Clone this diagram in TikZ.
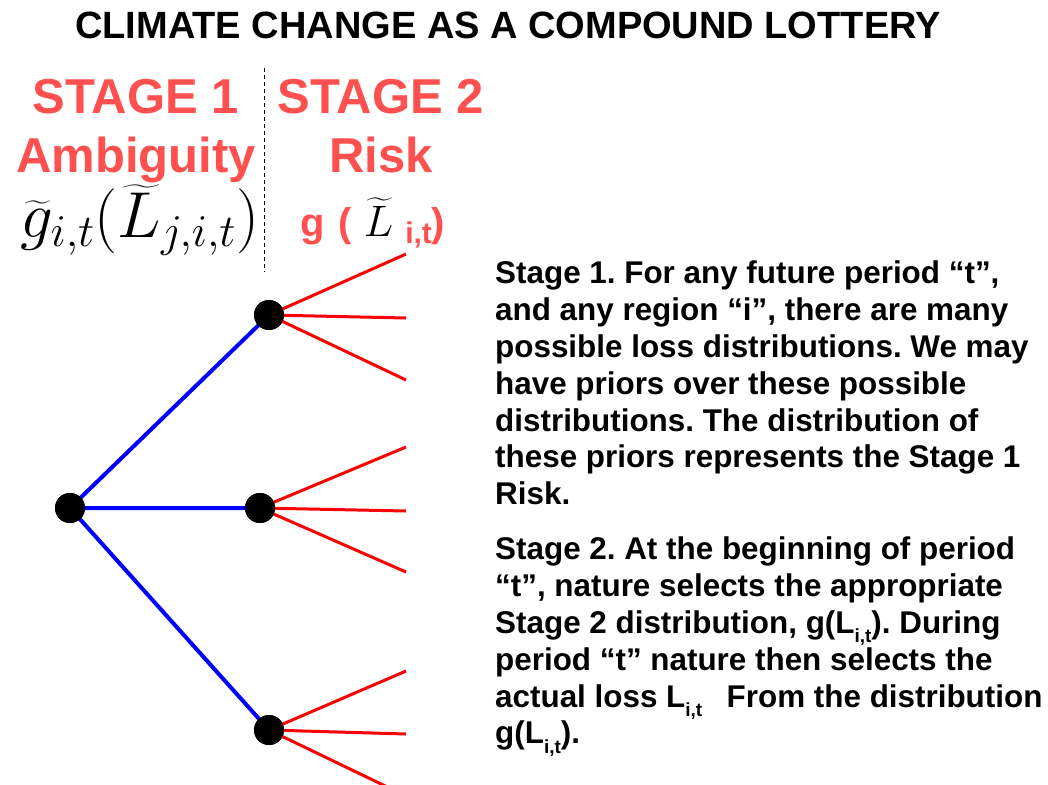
\documentclass[tikz,border=0pt]{standalone}
\usepackage{fix-cm}
\usepackage{amsmath}
\usepackage{fontspec}
\setmainfont{Liberation Sans}
\usetikzlibrary{calc}
\definecolor{stagered}{HTML}{FF5050}
\newcommand{\isub}{\raisebox{-0.3em}{\fontsize{19}{19}\selectfont i,t}}
\frenchspacing

\begin{document}
\begin{tikzpicture}[x=1pt,y=-1pt,
  dot/.style={circle,fill=black,inner sep=0pt,minimum size=30pt},
  blueedge/.style={blue,line width=4pt},
  rededge/.style={red,line width=3pt},
  stagehead/.style={text=stagered,font=\fontsize{49}{49}\selectfont\bfseries,inner sep=0pt,anchor=base},
  para/.style={align=left,inner sep=0pt,anchor=north west,font=\fontsize{31.4}{36.8}\selectfont\bfseries}]
 \useasboundingbox (0,0) rectangle (1048,784);
 % headings
 \node[inner sep=0pt,anchor=base,font=\fontsize{38}{38}\selectfont\bfseries] (title) at (508,38) {CLIMATE CHANGE AS A COMPOUND LOTTERY};
 \node[stagehead] (stageone) at (136,113) {STAGE 1};
 \node[stagehead] (stagetwo) at (381,113) {STAGE 2};
 \node[stagehead] (ambig) at (136,172) {Ambiguity};
 \node[stagehead] (risk) at (381,172) {Risk};
 \node[inner sep=0pt,anchor=base west,font=\fontsize{65}{65}\selectfont] (gfun) at (20,237)
   {$\widetilde{g}_{i,t}(\widetilde{L}_{j,i,t})$};
 \node[inner sep=0pt,anchor=base west,font=\fontsize{40}{40}\selectfont] (gdist) at (300,236)
   {{\color{stagered}\bfseries g\hspace{0.35em}(}\hspace{0.3em}{\fontsize{44}{44}\selectfont$\widetilde{L}$}\hspace{0.3em}\raisebox{-7pt}{\color{stagered}\fontsize{30}{30}\selectfont\bfseries i,t}{\color{stagered}\bfseries)}};
 % divider
 \coordinate (divtop) at (264,68);
 \coordinate (divbot) at (264,272);
 \draw[dash pattern=on 4pt off 3pt,line width=1pt] (divtop) -- (divbot);
 % tree
 \node[dot] (root) at (70,508) {};
 \node[dot] (A) at (269,315) {};
 \node[dot] (B) at (260,508) {};
 \node[dot] (C) at (269,730) {};
 \coordinate (a1) at (406,254); \coordinate (a2) at (406,318); \coordinate (a3) at (406,380);
 \coordinate (b1) at (406,447); \coordinate (b2) at (406,511); \coordinate (b3) at (406,572);
 \coordinate (c1) at (406,671); \coordinate (c2) at (406,734); \coordinate (c3) at (406,796);
 \draw[rededge] (A.center) -- (a1) (A.center) -- (a2) (A.center) -- (a3);
 \draw[rededge] (B.center) -- (b1) (B.center) -- (b2) (B.center) -- (b3);
 \draw[rededge] (C.center) -- (c1) (C.center) -- (c2) (C.center) -- (c3);
 \draw[blueedge] (root.center) -- (A.center) (root.center) -- (B.center) (root.center) -- (C.center);
 \node[dot] at (root) {};
 \node[dot] at (A) {};
 \node[dot] at (B) {};
 \node[dot] at (C) {};
 % explanations
 \node[para] (stageonetext) at (495,261) {Stage 1. For any future period ``t'',\\
   and any region ``i'', there are many\\
   possible loss distributions. We may\\
   have priors over these possible\\
   distributions. The distribution of\\
   these priors represents the Stage 1\\
   Risk.};
 \node[para] (stagetwotext) at (495,537) {Stage 2. At the beginning of period\\
   ``t'', nature selects the appropriate\\
   Stage 2 distribution, g(L\isub). During\\
   period ``t'' nature then selects the\\
   actual loss L\isub\hspace{0.5em} From the distribution\\
   g(L\isub).};
\end{tikzpicture}
\end{document}
